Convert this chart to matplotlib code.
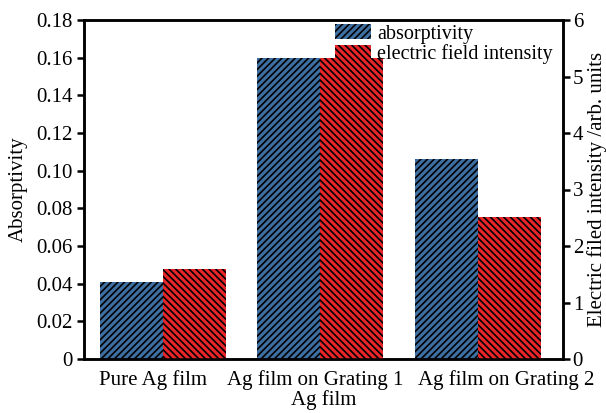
import matplotlib
matplotlib.use('Agg')
import matplotlib.pyplot as plt
import numpy as np

categories = ['Pure Ag film', 'Ag film on Grating 1', 'Ag film on Grating 2']
absorptivity = [0.041, 0.160, 0.106]
field_intensity = [1.59, 5.33, 2.51]

plt.rcParams['font.family'] = 'Liberation Serif'
plt.rcParams['font.size'] = 15
plt.rcParams['hatch.linewidth'] = 1.2

fig = plt.figure(figsize=(6.06, 4.13), dpi=100)
ax = fig.add_axes([84 / 606, 1 - 359 / 413, 479 / 606, 339 / 413])
ax2 = ax.twinx()

x = np.arange(len(categories))
w = 0.4
b1 = ax.bar(x - w / 2, absorptivity, w, color='#3e6fa3', edgecolor='black', linewidth=0,
            hatch='/////', label='absorptivity')
b2 = ax2.bar(x + w / 2, field_intensity, w, color='#e8262a', edgecolor='black', linewidth=0,
             hatch='\\\\\\\\\\', label='electric field intensity')

ax.set_xlim(-0.5, 2.54)
ax.set_ylim(0, 0.18)
ax2.set_ylim(0, 6)
ax.set_yticks(np.arange(0, 0.181, 0.02))
ax.set_yticklabels(['0'] + ['%.2f' % v for v in np.arange(0.02, 0.181, 0.02)])
ax2.set_yticks(range(7))
# labels were nudged sideways in the original so they don't collide
label_shift = np.array([-0.06, -0.03, 0.18])
ax.set_xticks(x + label_shift)
ax.set_xticklabels(categories)
ax.tick_params(axis='x', length=0, pad=8)
ax.tick_params(axis='y', width=1.8, length=5, pad=3)
ax2.tick_params(axis='y', width=1.8, length=5, pad=2)

for a in (ax, ax2):
    for s in a.spines.values():
        s.set_linewidth(1.8)

ax.set_ylabel('Absorptivity', labelpad=6)
ax2.set_ylabel('Electric filed intensity /arb. units', labelpad=3)
ax.set_xlabel('Ag film', labelpad=0)

ax2.legend([b1, b2], ['absorptivity', 'electric field intensity'], loc='upper right',
           frameon=False, borderaxespad=0, borderpad=0, handlelength=1.8,
           handleheight=0.7, handletextpad=0.3, labelspacing=0.05, fontsize=14.5,
           bbox_to_anchor=(0.978, 0.987))

fig.savefig('out.png', dpi=100)
